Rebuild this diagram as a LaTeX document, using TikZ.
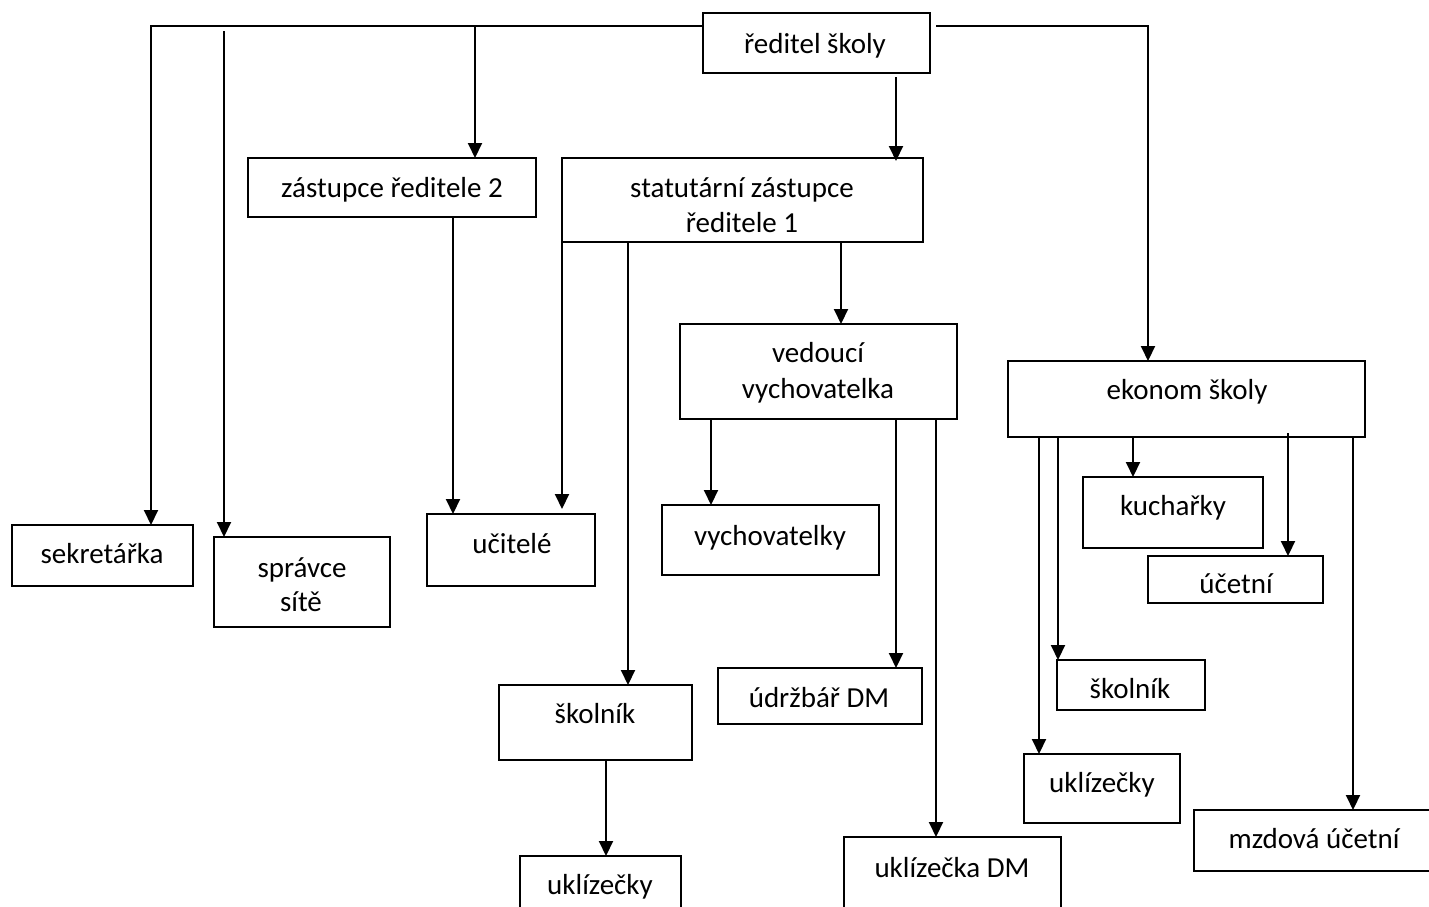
\documentclass[tikz,border=0pt]{standalone}
\usepackage{fontspec}
\setmainfont{Carlito}
\usetikzlibrary{arrows.meta}
\begin{document}
\begin{tikzpicture}[x=1pt,y=-1pt,
  box/.style={draw=black,line width=2pt,rectangle,inner sep=0pt,outer sep=0pt,fill=none},
  txt/.style={font=\fontsize{29}{35}\selectfont,anchor=base,inner sep=0pt},
  conn/.style={draw=black,line width=2pt},
  arr/.style={conn,-{Triangle[width=14pt,length=15pt]}}]
\clip (0,0) rectangle (1429,906);
\fill[white] (0,0) rectangle (1429,906);
% helper: box from corners
\newcommand{\orgbox}[5]{\node[box,minimum width={#4-#2},minimum height={#5-#3}] (#1) at ({(#2+#4)/2},{(#3+#5)/2}) {};}
\orgbox{r}{703}{13}{930}{73}
\orgbox{z2}{248}{158}{536}{217}
\orgbox{s1}{562}{158}{923}{242}
\orgbox{vv}{680}{324}{957}{419}
\orgbox{ek}{1008}{361}{1365}{437}
\orgbox{sek}{12}{525}{193}{586}
\orgbox{spr}{214}{537}{390}{627}
\orgbox{uc}{427}{514}{595}{586}
\orgbox{vy}{662}{505}{879}{575}
\orgbox{ku}{1083}{477}{1263}{548}
\orgbox{ucet}{1148}{556}{1323}{603}
\orgbox{skA}{499}{685}{692}{760}
\orgbox{udr}{718}{668}{922}{724}
\orgbox{skB}{1057}{660}{1205}{710}
\orgbox{uklB}{1024}{754}{1180}{823}
\orgbox{mz}{1194}{810}{1445}{871}
\orgbox{uklA}{520}{856}{681}{930}
\orgbox{ukDM}{844}{837}{1061}{930}
% texts
\node[txt] (tr) at (815,53) {ředitel školy};
\node[txt] (tz2) at (392,197) {zástupce ředitele 2};
\node[txt] (ts1a) at (742,197) {statutární zástupce};
\node[txt] (ts1b) at (742,232) {ředitele 1};
\node[txt] (tvva) at (818,362) {vedoucí};
\node[txt] (tvvb) at (818,398) {vychovatelka};
\node[txt] (tek) at (1187,399) {ekonom školy};
\node[txt] (tsek) at (102,563) {sekretářka};
\node[txt] (tspra) at (302,577) {správce};
\node[txt] (tsprb) at (301,611) {sítě};
\node[txt] (tuc) at (512,553) {učitelé};
\node[txt] (tvy) at (770,545) {vychovatelky};
\node[txt] (tku) at (1173,515) {kuchařky};
\node[txt] (tucet) at (1236,593) {účetní};
\node[txt] (tskA) at (595,723) {školník};
\node[txt] (tudr) at (819,707) {údržbář DM};
\node[txt] (tskB) at (1130,698) {školník};
\node[txt] (tuklB) at (1102,792) {uklízečky};
\node[txt] (tmz) at (1314,848) {mzdová účetní};
\node[txt] (tuklA) at (600,894) {uklízečky};
\node[txt] (tukDM) at (952,877) {uklízečka DM};
% x positions for connectors
\coordinate (x151) at (151,0);
\coordinate (x224) at (224,0);
\coordinate (x453) at (453,0);
\coordinate (x475) at (475,0);
\coordinate (x562) at (562,0);
\coordinate (x606) at (606,0);
\coordinate (x628) at (628,0);
\coordinate (x711) at (711,0);
\coordinate (x841) at (841,0);
\coordinate (x896) at (896,0);
\coordinate (x936) at (936,0);
\coordinate (x1039) at (1039,0);
\coordinate (x1058) at (1058,0);
\coordinate (x1133) at (1133,0);
\coordinate (x1148) at (1148,0);
\coordinate (x1288) at (1288,0);
\coordinate (x1353) at (1353,0);
\coordinate (c224) at (224,31);
\coordinate (c475) at (475,25);
% connectors from ředitel
\draw[arr] ([yshift=17pt]r.west) -| (sek.north -| x151);
\draw[arr] (c224) -- (spr.north -| x224);
\draw[arr] (c475) -- (z2.north -| x475);
\draw[arr,shorten <=4pt] (r.south -| x896) -- ([yshift=-3pt]s1.north -| x896);
\draw[arr] ([yshift=17pt,xshift=6pt]r.east) -| (ek.north -| x1148);
% zástupce 2
\draw[arr] (z2.south -| x453) -- (uc.north -| x453);
% statutární
\draw[arr,shorten >=5pt] (s1.south -| x562) -- (uc.north -| x562);
\draw[arr] (s1.south -| x628) -- (skA.north -| x628);
\draw[arr] (s1.south -| x841) -- (vv.north -| x841);
% vedoucí vychovatelka
\draw[arr] (vv.south -| x711) -- (vy.north -| x711);
\draw[arr] (vv.south -| x896) -- (udr.north -| x896);
\draw[arr] (vv.south -| x936) -- (ukDM.north -| x936);
% školník
\draw[arr] (skA.south -| x606) -- (uklA.north -| x606);
% ekonom
\draw[arr] (ek.south -| x1039) -- (uklB.north -| x1039);
\draw[arr] (ek.south -| x1058) -- (skB.north -| x1058);
\draw[arr] (ek.south -| x1133) -- (ku.north -| x1133);
\draw[arr] ([yshift=4pt]ek.south -| x1288) -- (ucet.north -| x1288);
\draw[arr] (ek.south -| x1353) -- (mz.north -| x1353);
\end{tikzpicture}
\end{document}
